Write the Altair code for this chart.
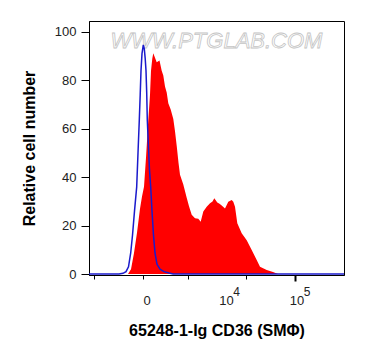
import altair as alt
import pandas as pd

# x positions are in display-channel units (0..255 across the plot), y in relative cell number
blue_x = [0, 30, 34, 37, 39.5, 41.7, 43.5, 45.5, 47.7, 49, 50.3, 51.2, 52, 53, 54.3, 55.3, 56.2,
          57, 57.7, 58.3, 59.5, 60.5, 61.7, 63, 64.5, 66, 68, 71, 75, 80, 84, 255]
blue_y = [0, 0, 0.3, 1, 3, 8.7, 16, 26, 36, 50, 63.6, 74, 84, 91, 94.6, 93, 89,
          84, 75, 63.6, 52, 43, 36, 26, 16, 8.7, 4, 2, 1, 0.4, 0, 0]

red_x = [0, 39, 42, 45, 48, 51, 53, 55, 57, 59.3, 61, 62, 63.3, 64.3,
         67.7, 70.5, 72.7, 74.3, 76, 77.7, 79.3, 81.7, 84.3, 86, 87.7, 89.5, 91, 94.3,
         97.7, 100, 102.7, 106, 109.3, 111.7, 114.3, 117.7, 121, 123.5, 125.3, 128.3,
         130.5, 132.7, 136, 139.3, 142.7, 144.3, 146, 148.3, 152.7, 157.7, 162.7, 167.7,
         171, 177.7, 184, 189, 255]
red_y = [0, 0, 2, 8.7, 17, 27, 32, 36, 48, 63.6, 74, 84, 89, 91.2,
         87.5, 88.2, 84, 82, 77.4, 75, 70.5, 68, 64, 59, 53, 46, 41, 37,
         31.5, 28, 24.5, 23, 22.8, 21.6, 25.8, 27.8, 29.2, 30, 31.3, 29.5,
         29, 28.3, 27.1, 29.9, 30.6, 29.9, 27.8, 21, 16.8, 14, 9.9, 5.8,
         3, 1.7, 0.8, 0, 0]

major_ticks = [56, 135.5, 206]
major_base = ["0", "10", "10"]
major_sup = ["", "4", "5"]
minor_ticks = [5, 18, 28, 39, 42, 45, 48, 51, 53.5, 58.5, 61, 63, 65, 71,
               86.2, 98.6, 107.4, 114.3, 119.9, 124.6, 128.7, 132.3,
               156.7, 169.1, 178, 184.8, 190.4, 195.1, 199.2, 202.8,
               227.2, 239.6, 248.4]
y_ticks = [0, 5, 10, 15, 20, 25, 30, 35, 40, 45, 50, 55, 60, 65, 70, 75, 80, 85, 90, 95, 100]

FONT = "Liberation Sans"

red_df = pd.DataFrame({"x": red_x, "y": red_y})
blue_df = pd.DataFrame({"x": blue_x, "y": blue_y})
lab_df = pd.DataFrame({"v": major_ticks, "base": major_base, "sup": major_sup})
wm_df = pd.DataFrame({"t": ["WWW.PTGLAB.COM"]})

xs = alt.Scale(domain=[0, 255], nice=False, zero=False)
ys = alt.Scale(domain=[-0.4, 104.5], nice=False, zero=False)

major_test = "indexof([56, 135.5, 206], datum.value) >= 0"

x_axis = alt.Axis(
    values=major_ticks + minor_ticks,
    labels=False,
    grid=False,
    domainColor="black",
    tickColor="black",
    tickSize={"condition": {"test": major_test, "value": 6}, "value": 4},
    tickWidth={"condition": {"test": major_test, "value": 2}, "value": 1},
    title="65248-1-Ig CD36 (SMΦ)",
    titleFont=FONT, titleFontSize=16, titleFontWeight="bold", titleColor="black",
    titlePadding=40,
)
y_axis = alt.Axis(
    values=y_ticks,
    labelExpr="datum.value % 20 === 0 ? datum.label : ''",
    grid=False,
    domainColor="black",
    tickColor="black",
    tickSize={"condition": {"test": "datum.value % 20 === 0", "value": 8}, "value": 4},
    labelFont=FONT, labelFontSize=13, labelColor="#222", labelPadding=5,
    title="Relative cell number",
    titleFont=FONT, titleFontSize=16, titleFontWeight="bold", titleColor="black",
    titlePadding=17,
)

watermark = alt.Chart(wm_df).mark_text(
    font=FONT, fontSize=22, fontStyle="italic", fill="white", stroke="#c4c4c4",
    strokeWidth=0.8, align="center", baseline="alphabetic"
).encode(text="t:N", x=alt.value(127.5), y=alt.value(27))

red = alt.Chart(red_df).mark_area(color="#ff0000", opacity=1).encode(
    x=alt.X("x:Q", scale=xs, axis=x_axis),
    y=alt.Y("y:Q", scale=ys, axis=y_axis),
)
blue = alt.Chart(blue_df).mark_line(color="#1a1acc", strokeWidth=1.5).encode(
    x=alt.X("x:Q", scale=xs), y=alt.Y("y:Q", scale=ys)
)
base_lab = alt.Chart(lab_df).mark_text(
    font=FONT, fontSize=13, color="#222", dx=2, align="center", baseline="alphabetic"
).encode(x=alt.X("v:Q", scale=xs), y=alt.value(284), text="base:N")
sup_lab = alt.Chart(lab_df).mark_text(
    font=FONT, fontSize=12, color="#222", dx=12, align="center", baseline="alphabetic"
).encode(x=alt.X("v:Q", scale=xs), y=alt.value(275), text="sup:N")

chart = alt.layer(watermark, red, blue, base_lab, sup_lab).properties(
    width=255, height=254,
    autosize=alt.AutoSizeParams(type="none"),
    padding={"left": 81, "top": 13, "right": 10, "bottom": 70},
    background="white",
).configure_view(stroke="black", strokeWidth=1)

chart.save("out.html", embed_options={"renderer": "svg", "actions": False})
